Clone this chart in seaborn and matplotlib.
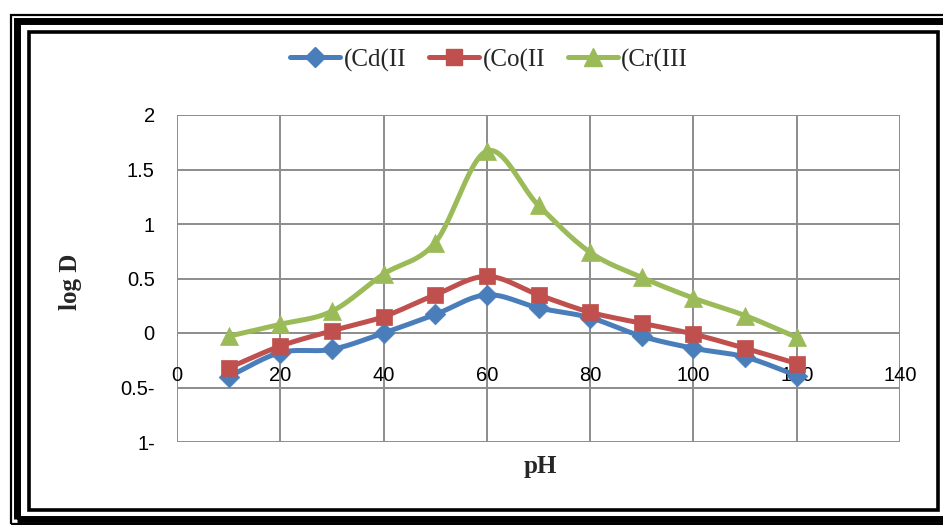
import numpy as np
import pandas as pd
import seaborn as sns
import matplotlib
matplotlib.use("Agg")
import matplotlib.pyplot as plt
from matplotlib.lines import Line2D
from matplotlib.patches import Rectangle

# ---------------- data ----------------
ph = [10, 20, 30, 40, 50, 60, 70, 80, 90, 100, 110, 120]
cd = [-0.40, -0.18, -0.15, 0.00, 0.17, 0.35, 0.23, 0.14, -0.03, -0.14, -0.22, -0.39]
co = [-0.32, -0.12, 0.02, 0.15, 0.35, 0.52, 0.35, 0.19, 0.09, -0.01, -0.14, -0.28]
cr = [-0.03, 0.08, 0.20, 0.54, 0.83, 1.67, 1.17, 0.74, 0.51, 0.32, 0.16, -0.04]
series_names = ["(Cd(II", "(Co(II", "(Cr(III"]
x_ticks = [0, 20, 40, 60, 80, 100, 120, 140]
y_ticks = [-1, -0.5, 0, 0.5, 1, 1.5, 2]
y_tick_labels = ["1-", "0.5-", "0", "0.5", "1", "1.5", "2"]

colors = ["#4A7EBB", "#C0504D", "#9BBB59"]
markers = ["D", "s", "^"]
msizes = [10.5, 11.5, 13]


def catmull_rom(x, y, n=24):
    x = np.asarray(x, float)
    y = np.asarray(y, float)
    px = np.concatenate([[2 * x[0] - x[1]], x, [2 * x[-1] - x[-2]]])
    py = np.concatenate([[2 * y[0] - y[1]], y, [2 * y[-1] - y[-2]]])
    xs, ys = [], []
    t = np.linspace(0, 1, n, endpoint=False)
    for i in range(1, len(px) - 2):
        for arr, out in ((px, xs), (py, ys)):
            p0, p1, p2, p3 = arr[i - 1], arr[i], arr[i + 1], arr[i + 2]
            out.extend(0.5 * ((2 * p1) + (-p0 + p2) * t
                              + (2 * p0 - 5 * p1 + 4 * p2 - p3) * t ** 2
                              + (-p0 + 3 * p1 - 3 * p2 + p3) * t ** 3))
    xs.append(x[-1])
    ys.append(y[-1])
    return np.array(xs), np.array(ys)


sns.set_theme(style="white")
plt.rcParams["font.family"] = ["Liberation Sans", "DejaVu Sans"]

fig = plt.figure(figsize=(9.43, 5.25), dpi=100)
W, H = 943, 525
ax = fig.add_axes([177 / W, 1 - 442 / H, (900 - 177) / W, (442 - 115) / H])
ax.set_axisbelow(True)

for name, vals, c, m, ms in zip(series_names, [cd, co, cr], colors, markers, msizes):
    sx, sy = catmull_rom(ph, vals)
    sns.lineplot(x=sx, y=sy, ax=ax, color=c, lw=3.6, sort=False,
                 estimator=None, legend=False)
    df = pd.DataFrame({"pH": ph, "v": vals})
    sns.scatterplot(data=df, x="pH", y="v", ax=ax, color=c, marker=m,
                    s=ms ** 2, edgecolor=c, linewidth=0.5,
                    legend=False, zorder=3)

ax.set_xlim(0, 140)
ax.set_ylim(-1, 2)
ax.set_xticks(x_ticks)
ax.set_yticks(y_ticks)
ax.set_yticklabels(y_tick_labels)
ax.grid(True, color="#8C8C8C", lw=1.4)
for s in ax.spines.values():
    s.set_visible(False)
ax.spines["bottom"].set_position(("data", 0))
ax.tick_params(axis="x", length=0, pad=24, labelsize=14.5, colors="black")
ax.tick_params(axis="y", length=0, pad=16, labelsize=14.5, colors="black")
ax.set_xlabel("")
ax.set_ylabel("")

fig.text(540 / W, 1 - 467 / H, "pH", ha="center", va="center",
         family="Liberation Serif", fontweight="bold", fontsize=18)
fig.text(70 / W, 1 - 282 / H, "log D", ha="center", va="center", rotation=90,
         family="Liberation Serif", fontweight="bold", fontsize=18)

handles = [Line2D([0], [0], color=c, lw=3.6, marker=m, markersize=ms * 0.95,
                  markeredgecolor=c) for c, m, ms in zip(colors, markers, msizes)]
fig.legend(handles, series_names, loc="center", bbox_to_anchor=(489 / W, 1 - 60 / H),
           ncol=3, frameon=False, handlelength=2.0, handletextpad=0.15,
           columnspacing=0.9,
           prop={"family": "Liberation Serif", "size": 18})

# double frame
def frac_rect(x0, y0, x1, y1, lw, color="black"):
    fig.patches.append(Rectangle((x0 / W, 1 - y1 / H), (x1 - x0) / W, (y1 - y0) / H,
                                 transform=fig.transFigure, fill=False,
                                 lw=lw, edgecolor=color))

frac_rect(11, 15, 960, 524, 1.6)
frac_rect(17, 21, 960, 518.5, 5.0)
frac_rect(28.5, 32, 938, 510, 2.6)

fig.savefig("out.png", dpi=100)
